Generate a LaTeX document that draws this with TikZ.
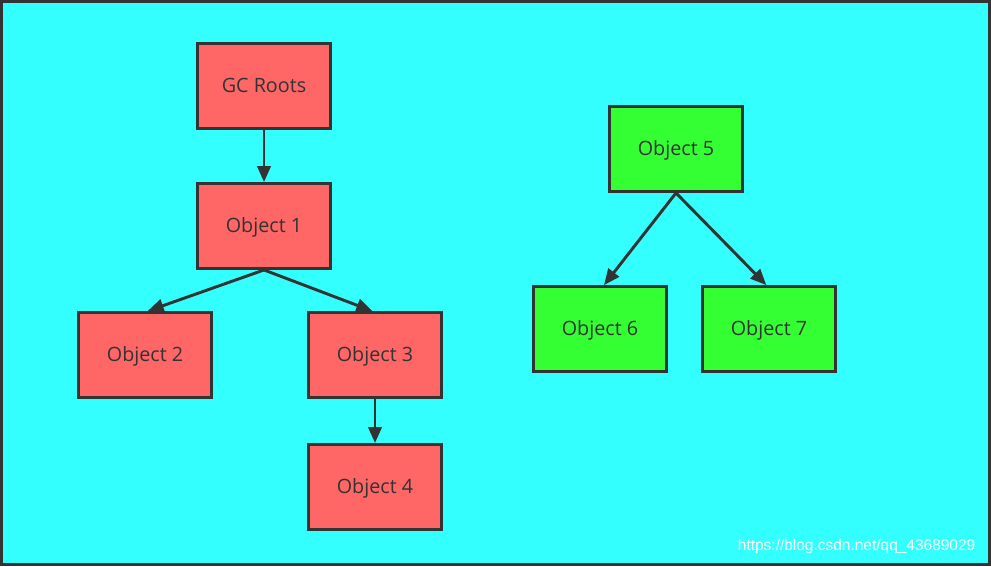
\documentclass[tikz,border=0pt]{standalone}
\usepackage{fontspec}
\setmainfont{Open Sans}
\newfontfamily\urlfont{Liberation Sans}
\usetikzlibrary{arrows.meta}
\definecolor{bgcyan}{HTML}{33FFFF}
\definecolor{objred}{HTML}{FF6666}
\definecolor{objgreen}{HTML}{33FF33}
\definecolor{edgegray}{HTML}{333333}

\begin{document}
\begin{tikzpicture}[x=0.75pt,y=-0.75pt,>={Triangle[length=12pt,width=10pt]},
  objbox/.style={draw=edgegray,line width=1.9pt,minimum width=100pt,minimum height=64pt,
    inner sep=0pt,text=edgegray,text depth=1pt,font=\fontsize{14.8}{17}\selectfont},
  live/.style={objbox,fill=objred},
  dead/.style={objbox,fill=objgreen},
  ref/.style={->,draw=edgegray,line width=2.2pt}]
\fill[bgcyan] (0,0) rectangle (991,566);
\draw[edgegray,line width=2.3pt] (1.5,1.5) rectangle (989.5,564.5);
% reachable from the roots
\node[live] (roots) at (264,86) {GC Roots};
\node[live] (obj1) at (264,226) {Object 1};
\node[live] (obj2) at (145,355) {Object 2};
\node[live] (obj3) at (375,355) {Object 3};
\node[live] (obj4) at (375,487) {Object 4};
% unreachable
\node[dead] (obj5) at (676,149) {Object 5};
\node[dead] (obj6) at (600,329) {Object 6};
\node[dead] (obj7) at (769,329) {Object 7};
\draw[ref] (roots) -- (obj1);
\draw[ref] (obj1.south) -- ([xshift=2pt]obj2.north);
\draw[ref] (obj1.south) -- ([xshift=-2pt]obj3.north);
\draw[ref] (obj3) -- (obj4);
\draw[ref] (obj5.south) -- ([xshift=3pt]obj6.north);
\draw[ref] (obj5.south) -- ([xshift=-2pt]obj7.north);
\node[anchor=east,text=white,font=\urlfont\fontsize{11.6}{13}\selectfont] (mark) at (980,547) {https://blog.csdn.net/qq\_43689029};
\end{tikzpicture}
\end{document}
